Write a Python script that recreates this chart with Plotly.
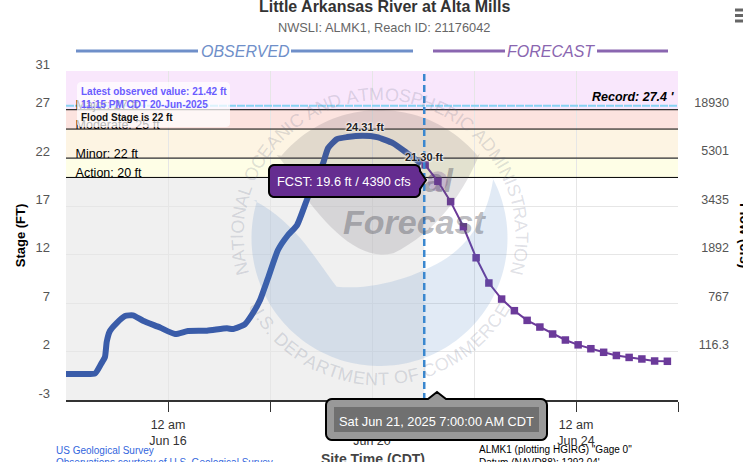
import numpy as np
import plotly.graph_objects as go

# ---------- data ----------
obs_time = ["2025-06-14 00:00","2025-06-14 06:35","2025-06-14 13:40","2025-06-14 16:30","2025-06-14 18:20",
            "2025-06-14 19:10","2025-06-14 20:40","2025-06-14 23:50","2025-06-15 03:45","2025-06-15 07:30",
            "2025-06-15 12:15","2025-06-15 20:15","2025-06-16 03:20","2025-06-16 09:25","2025-06-16 18:20",
            "2025-06-17 03:45","2025-06-17 06:35","2025-06-17 12:15","2025-06-17 16:00","2025-06-17 19:20",
            "2025-06-17 23:05","2025-06-18 03:45","2025-06-18 08:30","2025-06-18 12:45","2025-06-18 17:50",
            "2025-06-18 21:40","2025-06-19 01:00","2025-06-19 03:20","2025-06-19 07:30","2025-06-19 12:15",
            "2025-06-19 19:45","2025-06-20 02:20","2025-06-20 09:50","2025-06-20 16:30","2025-06-20 23:15"]
obs_stage = [-0.31,-0.31,-0.26,0.72,1.44,3.02,4.13,4.95,5.68,5.75,5.19,4.49,3.82,4.13,4.16,4.41,4.33,4.85,
             5.99,7.33,9.6,12.5,14.05,15.08,17.97,19.93,21.48,23.03,23.96,24.17,24.31,24.17,23.55,22.52,21.42]
fc_time = ["2025-06-21 01:00","2025-06-21 07:00","2025-06-21 13:00","2025-06-21 19:00","2025-06-22 01:00",
           "2025-06-22 07:00","2025-06-22 13:00","2025-06-22 19:00","2025-06-23 01:00","2025-06-23 07:00",
           "2025-06-23 13:00","2025-06-23 19:00","2025-06-24 01:00","2025-06-24 07:00","2025-06-24 13:00",
           "2025-06-24 19:00","2025-06-25 01:00","2025-06-25 07:00","2025-06-25 13:00","2025-06-25 19:00"]
fc_stage = [21.30,19.6,17.5,14.9,11.7,9.09,7.43,6.23,5.23,4.54,3.82,3.2,2.7,2.3,1.93,1.6,1.4,1.24,1.03,1.0]
hover_time = ["2025-06-21 07:00"]
hover_stage = [19.6]
now_time = "2025-06-21 00:35"
x_start, x_end = "2025-06-14 00:00", "2025-06-26 00:00"
x_ticks = ["2025-06-16","2025-06-18","2025-06-20","2025-06-22","2025-06-24","2025-06-26"]
x_labels = ["12 am<br>Jun 16","","12 am<br>Jun 20","","12 am<br>Jun 24",""]
y_ticks = [-3,2,7,12,17,22,27,31]
y_labels = ["-3","2","7","12","17","22","27","31"]
flow_ticks = [2,7,12,17,22,27]
flow_labels = ["116.3","767","1892","3435","5301","18930"]
stage_names = ["Action: 20 ft","Minor: 22 ft","Moderate: 25 ft","Major: 27 ft"]
stage_levels = [20,22,25,27]
stage_label_at = [19.7,21.7,24.7,26.7]
record_level = 27.4

W, H = 743, 462
L, R, T, B = 66, 678, 71, 400
FULLW = W - L
def X(p): return (p - L) / FULLW
def Y(p): return 1 - (p - T) / (B - T)
def path(pts, close=True):
    return "M " + " L ".join(f"{X(a):.5f},{Y(b):.5f}" for a, b in pts) + (" Z" if close else "")
def rpath(x0, y0, x1, y1, r=5, tip=None):
    """Rounded box polygon, optional pointer tip inserted on a side."""
    pts = []
    def arc(cx, cy, a0, a1):
        for a in np.radians(np.linspace(a0, a1, 6)):
            pts.append((cx + r*np.cos(a), cy + r*np.sin(a)))
    arc(x0+r, y0+r, 180, 270)
    if tip and tip[0] == "top":
        pts += [(tip[1]-9, y0), (tip[1], tip[2]), (tip[1]+9, y0)]
    arc(x1-r, y0+r, 270, 360)
    if tip and tip[0] == "right":
        pts += [(x1, tip[2]-9), (tip[1], tip[2]), (x1, tip[2]+9)]
    arc(x1-r, y1-r, 0, 90)
    arc(x0+r, y1-r, 90, 180)
    return path(pts)

FONT = "Liberation Sans, Arial, sans-serif"
fig = go.Figure()

# threshold lines
for lev in stage_levels:
    fig.add_trace(go.Scatter(x=[x_start, x_end], y=[lev, lev], mode="lines",
                             line=dict(color="#000", width=1), hoverinfo="skip"))
fig.add_trace(go.Scatter(x=[x_start, x_end], y=[record_level]*2, mode="lines",
                         line=dict(color="#87d3f3", width=2, dash="8px,1px"), hoverinfo="skip"))
# threshold labels sit below the translucent box
fig.add_trace(go.Scatter(x=["2025-06-14 04:30"]*4, y=stage_label_at, mode="text", text=stage_names,
                         textposition="top right", textfont=dict(size=12.5, color="#000", family=FONT),
                         hoverinfo="skip"))
# logo word partly hidden under the tooltip
fig.add_trace(go.Scatter(x=["2025-06-20 06:30"], y=[19.4], mode="text", text=["<b><i>National</i></b>"],
                         textposition="middle center",
                         textfont=dict(size=34, color="rgba(90,90,100,0.42)", family=FONT), hoverinfo="skip"))
fig.add_trace(go.Scatter(x=obs_time, y=obs_stage, mode="lines", hoverinfo="skip",
                         line=dict(color="#3a5ca9", width=6, shape="spline", smoothing=0.5)))
fig.add_trace(go.Scatter(x=fc_time, y=fc_stage, mode="lines+markers", hoverinfo="skip",
                         line=dict(color="#6b3a9a", width=2),
                         marker=dict(symbol="square", size=7.5, color="#6b3a9a")))
fig.add_trace(go.Scatter(x=hover_time, y=hover_stage, mode="markers", hoverinfo="skip",
                         marker=dict(size=20, color="rgba(106,47,150,0.25)")))
fig.add_trace(go.Scatter(x=[None]*len(flow_ticks), y=flow_ticks, yaxis="y2", mode="lines", hoverinfo="skip"))

shapes = []
# stage bands
bands = [(27, 34, "#f9e7fc"), (25, 27, "#fce3df"), (22, 25, "#fdf4e3"), (20, 22, "#fefee6")]
for lo, hi, col in bands:
    shapes.append(dict(type="rect", xref="x", yref="y", x0=x_start, x1=x_end, y0=lo, y1=hi,
                       fillcolor=col, line_width=0, layer="below"))
shapes.append(dict(type="rect", xref="x", yref="y", x0=x_start, x1=now_time, y0=-3, y1=20,
                   fillcolor="#f0f0f0", line_width=0, layer="below"))

# watermark (zoom-crop coordinates -> pixels)
def Z(zx, zy): return (220 + zx/3, 90 + zy/3)
cx, cy, rr = 379.5, 238, 128
def arc_pts(a0, a1, n=60):
    return [(cx + rr*np.cos(a), cy + rr*np.sin(a)) for a in np.radians(np.linspace(a0, a1, n))]
def bez(p0, p1, p2, p3, n=16):
    t = np.linspace(0, 1, n)[:, None]
    p0, p1, p2, p3 = map(np.array, (p0, p1, p2, p3))
    return [tuple(q) for q in ((1-t)**3*p0 + 3*(1-t)**2*t*p1 + 3*(1-t)*t**2*p2 + t**3*p3)]
# blue: lower body, from left tip round the bottom to right tip, back along the wave
blue = arc_pts(197, -28, 120)
blue += bez(Z(820,265), Z(800,400), Z(730,480), Z(650,522))
blue += bez(Z(650,522), Z(560,570), Z(450,600), Z(350,590))
blue += bez(Z(350,590), Z(280,500), Z(230,400), Z(100,330))
shapes.append(dict(type="path", xref="paper", yref="paper", path=path(blue),
                   fillcolor="rgba(70,125,190,0.16)", line_width=0, layer="above"))
# grey dome
grey = arc_pts(-140, -40, 50)
grey += bez(Z(780,190), Z(720,330), Z(640,430), Z(520,490))
grey += bez(Z(520,490), Z(430,510), Z(350,440), Z(270,340))
grey += bez(Z(270,340), Z(240,290), Z(210,240), Z(170,195))
shapes.append(dict(type="path", xref="paper", yref="paper", path=path(grey),
                   fillcolor="rgba(90,85,95,0.17)", line_width=0, layer="above"))
shapes.append(dict(type="line", xref="x", yref="paper", x0=now_time, x1=now_time, y0=0, y1=1,
                   line=dict(color="#3a87cf", width=2.5, dash="7px,4px"), layer="above"))

# header rules
for a, b, col in [(76,198,"#6f8fc9"),(291,413,"#6f8fc9"),(433,505,"#8a66b0"),(597,668,"#8a66b0")]:
    shapes.append(dict(type="line", xref="paper", yref="paper", x0=X(a), x1=X(b), y0=Y(51), y1=Y(51),
                       line=dict(color=col, width=3)))
# hamburger
for yy in (10, 15.5, 21):
    shapes.append(dict(type="line", xref="paper", yref="paper", x0=X(735), x1=X(743), y0=Y(yy), y1=Y(yy),
                       line=dict(color="#666", width=3)))
# note box
shapes.append(dict(type="path", xref="paper", yref="paper", path=rpath(77,82,230,127,r=4),
                   fillcolor="rgba(255,255,255,0.72)", line_width=0, layer="above"))
# tooltips
shapes.append(dict(type="path", xref="paper", yref="paper", path=rpath(269,165,420,197,r=5,tip=("right",426,180)),
                   fillcolor="#652d90", line=dict(color="#000", width=2), layer="above"))
shapes.append(dict(type="path", xref="paper", yref="paper", path=rpath(326,399,547,440,r=6,tip=("top",437,392)),
                   fillcolor="#999999", line=dict(color="#000", width=2), layer="above"))
shapes.append(dict(type="rect", xref="paper", yref="paper", x0=X(334), x1=X(539), y0=Y(407), y1=Y(432),
                   fillcolor="#707070", line_width=0, layer="above"))

ann = []
def text(px, py, s, size=12, color="#000", anchor="left", **kw):
    ann.append(dict(xref="paper", yref="paper", x=X(px), y=Y(py), text=s, showarrow=False,
                    xanchor=anchor, yanchor="middle",
                    font=dict(size=size, color=color, family=FONT), **kw))

text(384, 7, "<b>Little Arkansas River at Alta Mills</b>", 16, "#333", "center")
text(384, 27, "NWSLI: ALMK1, Reach ID: 21176042", 12.8, "#666", "center")
text(245, 51, "<i>OBSERVED</i>", 16, "#6f8fc9", "center")
text(551, 51, "<i>FORECAST</i>", 16, "#8a66b0", "center")
text(78.5, 91, "<b>Latest observed value: 21.42 ft</b>", 10, "#6a5cff")
text(78.5, 104.5, "<b>11:15 PM CDT 20-Jun-2025</b>", 10, "#6a5cff")
text(78.5, 117.5, "<b>Flood Stage is 22 ft</b>", 10, "#111")
text(677, 97, "<b><i>Record: 27.4 '</i></b>", 12.5, "#000", "right")
text(344, 181, "FCST: 19.6 ft / 4390 cfs", 12.8, "#fff", "center")
text(436.5, 421, "Sat Jun 21, 2025 7:00:00 AM CDT", 12.8, "#fff", "center")
text(745, 235, "<b>Flow (cfs)</b>", 14, "#000", "center", textangle=90)
text(373, 458.5, "<b>Site Time (CDT)</b>", 14, "#444", "center")
text(53.5, 450.5, "US Geological Survey", 10, "#3366dd")
text(53.5, 462.5, "Observations courtesy of U.S. Geological Survey", 10, "#3366dd")
text(476.5, 449, 'ALMK1 (plotting HGIRG) "Gage 0"', 10, "#000")
text(476.5, 462, "Datum (NAVD88): 1292.04'", 10, "#000")
# Forecast word of the watermark
text(414, 222, "<b><i>Forecast</i></b>", 34, "rgba(80,80,90,0.40)", "center")
# data labels
halo = "0 0 2px #fff, 0 0 2px #fff, 0 0 3px #fff"
for t, v, s, dy in [("2025-06-19 20:30", 24.31, "24.31 ft", -9), ("2025-06-21 00:30", 21.30, "21.30 ft", -8)]:
    ann.append(dict(x=t, y=v, xref="x", yref="y", text=f"<b>{s}</b>", showarrow=False, yshift=-dy,
                    xanchor="center", yanchor="middle",
                    font=dict(size=11, color="#222", family=FONT, shadow=halo)))

# ring lettering, each glyph rotated along the seal
AW = dict(A=.667,B=.667,C=.722,D=.722,E=.667,F=.611,G=.778,H=.722,I=.278,J=.5,K=.667,L=.556,M=.833,N=.722,
          O=.778,P=.667,Q=.778,R=.722,S=.667,T=.611,U=.722,V=.667,W=.944,X=.667,Y=.667,Z=.611)
AW.update({" ":.278, ".":.278})
ring_cy = 236
def ring(s, a0, a1, rad, top=True):
    w = np.array([AW[c] for c in s])
    mid = np.cumsum(w) - w/2
    ang = a0 + (a1 - a0) * mid / w.sum()
    for c, a in zip(s, ang):
        if c == " ": continue
        r_a = np.radians(a)
        if top:
            px, py, rot = cx + rad*np.sin(r_a), ring_cy - rad*np.cos(r_a), a
        else:
            px, py, rot = cx + rad*np.sin(r_a), ring_cy + rad*np.cos(r_a), -a
        ann.append(dict(xref="paper", yref="paper", x=X(px), y=Y(py), text=c, showarrow=False,
                        xanchor="center", yanchor="middle", textangle=float(rot),
                        font=dict(size=18, color="rgba(95,105,130,0.21)", family=FONT)))
ring("NATIONAL OCEANIC AND ATMOSPHERIC ADMINISTRATION", -106, 106, 142, True)
ring("U.S. DEPARTMENT OF COMMERCE", -62, 61, 143, False)

fig.update_layout(
    width=W, height=H, autosize=False, showlegend=False, hovermode=False,
    margin=dict(l=L, r=0, t=T, b=H-B, pad=0, autoexpand=False),
    paper_bgcolor="#fff", plot_bgcolor="#fff",
    font=dict(family=FONT),
    shapes=shapes, annotations=ann,
    xaxis=dict(domain=[0, (R-L)/FULLW], range=[x_start, x_end], type="date", automargin=False,
               tickmode="array", tickvals=x_ticks, ticktext=x_labels,
               ticks="outside", ticklen=10, tickcolor="#333", tickwidth=1,
               showline=True, linecolor="#333", linewidth=1.5, ticklabelstandoff=2,
               showgrid=True, gridcolor="#e6e6e6", gridwidth=1, zeroline=False,
               tickfont=dict(size=12.5, color="#333", family=FONT)),
    yaxis=dict(domain=[0, 1], range=[-3, 31], tickmode="array", tickvals=y_ticks, ticktext=y_labels,
               ticks="", showline=False, showgrid=True, gridcolor="#e6e6e6", gridwidth=1, zeroline=False,
               ticklabelstandoff=15, ticklabelshift=-7, automargin=False,
               tickfont=dict(size=13, color="#555", family=FONT),
               title=dict(text="<b>Stage (FT)</b>", standoff=6,
                          font=dict(size=13, color="#000", family=FONT))),
    yaxis2=dict(overlaying="y", side="left", anchor="free", position=(729-L)/FULLW, range=[-3, 31],
                tickmode="array", tickvals=flow_ticks, ticktext=flow_labels, ticks="", showline=False,
                showgrid=False, zeroline=False, ticklabelshift=-7, automargin=False,
                tickfont=dict(size=12.5, color="#555", family=FONT)),
)
fig.write_html("out.html", config=dict(displayModeBar=False),
               post_script="document.body.style.margin='0';document.body.style.overflow='hidden';")
